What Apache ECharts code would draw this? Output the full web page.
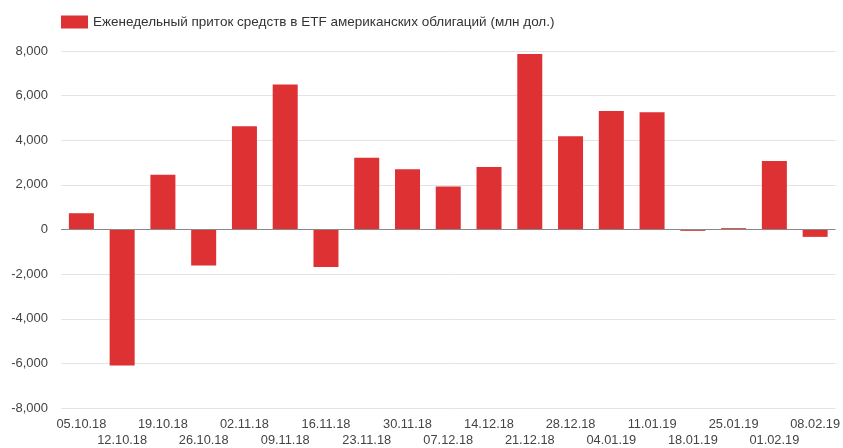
<!DOCTYPE html>
<html>
<head>
<meta charset="utf-8">
<script src="https://cdn.jsdelivr.net/npm/echarts@6/dist/echarts.min.js"></script>
<style>
html,body{margin:0;padding:0;background:#fff;}
#chart{width:843px;height:448px;}
</style>
</head>
<body>
<div id="chart"></div>
<script>
const seriesName = 'Еженедельный приток средств в ETF американских облигаций (млн дол.)';
const categories = ['05.10.18','12.10.18','19.10.18','26.10.18','02.11.18','09.11.18','16.11.18','23.11.18','30.11.18','07.12.18','14.12.18','21.12.18','28.12.18','04.01.19','11.01.19','18.01.19','25.01.19','01.02.19','08.02.19'];
const values = [730, -6100, 2450, -1610, 4630, 6500, -1680, 3220, 2700, 1930, 2800, 7870, 4180, 5310, 5260, -60, 60, 3070, -330];
const yTicks = {min: -8000, max: 8000, interval: 2000};

const chart = echarts.init(document.getElementById('chart'), null, {renderer: 'canvas'});
const fontFamily = '"Liberation Sans", Arial, sans-serif';
chart.setOption({
  animation: false,
  textStyle: {fontFamily: fontFamily},
  legend: {
    left: 56, top: 10,
    icon: 'rect', itemWidth: 27, itemHeight: 13, itemGap: 10,
    textStyle: {fontSize: 13.5, color: '#333', fontFamily: fontFamily, padding: [0, 0, 0, 0]},
    data: [seriesName]
  },
  grid: {left: 61, right: 6, top: 51, bottom: 39, containLabel: false},
  xAxis: {
    type: 'category',
    data: categories,
    axisLine: {show: false, onZero: false},
    axisTick: {show: false},
    axisLabel: {
      interval: 0, fontSize: 12.8, color: '#444', fontFamily: fontFamily,
      margin: 8, lineHeight: 16,
      formatter: (v, i) => (i % 2 === 1 ? '\n' + v : v + '\n')
    }
  },
  yAxis: {
    type: 'value',
    min: yTicks.min, max: yTicks.max, interval: yTicks.interval,
    axisLine: {show: false},
    axisTick: {show: false},
    splitLine: {lineStyle: {color: '#e3e3e3', width: 1}},
    axisLabel: {
      fontSize: 13, color: '#444', margin: 13, fontFamily: fontFamily,
      formatter: v => String(v).replace(/\B(?=(\d{3})+(?!\d))/g, ',')
    }
  },
  series: [{
    name: seriesName,
    type: 'bar',
    data: values,
    barWidth: 25,
    itemStyle: {color: '#dd3134'},
    markLine: {
      silent: true,
      symbol: 'none',
      label: {show: false},
      lineStyle: {color: '#888', type: 'solid', width: 1},
      data: [{yAxis: 0}]
    }
  }]
});
</script>
</body>
</html>
